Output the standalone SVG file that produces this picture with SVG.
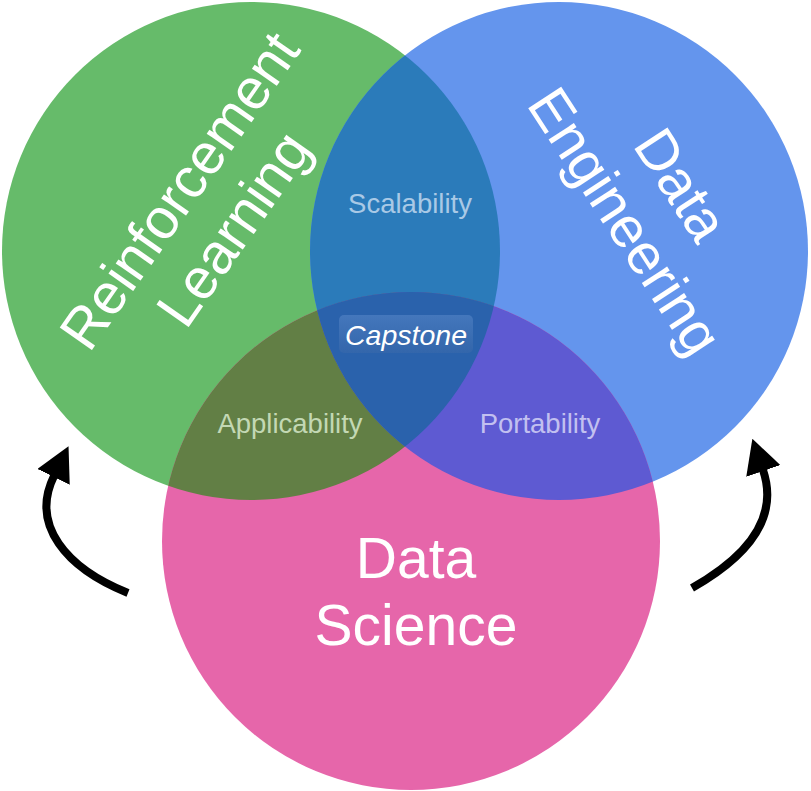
<svg xmlns="http://www.w3.org/2000/svg" width="811" height="791" viewBox="0 0 811 791">
  <style>
    .big { font-family: "Liberation Sans", Arial, sans-serif; font-size: 57px; fill: #ffffff; text-anchor: middle; }
    .small { font-family: "Liberation Sans", Arial, sans-serif; font-size: 27.5px; text-anchor: middle; }
    .cap { font-family: "Liberation Sans", Arial, sans-serif; font-size: 28.5px; font-style: italic; fill: #ffffff; text-anchor: middle; }
    .arrow { fill: none; stroke: #000000; stroke-width: 8; marker-end: url(#head); }
  </style>
  <defs>
    <clipPath id="clipG"><circle cx="251" cy="251" r="249"/></clipPath>
    <clipPath id="clipB"><circle cx="559" cy="251" r="249"/></clipPath>
    <marker id="head" viewBox="0 0 34 36" refX="1" refY="18" markerWidth="34" markerHeight="36" markerUnits="userSpaceOnUse" orient="auto">
      <path d="M0,0 L34,18 L0,36 z" fill="#000000"/>
    </marker>
    <linearGradient id="capFill" x1="0" y1="0" x2="0" y2="1">
      <stop offset="0" stop-color="#4477bc"/>
      <stop offset="1" stop-color="#3366ab"/>
    </linearGradient>
  </defs>

  <rect width="811" height="791" fill="#ffffff"/>

  <!-- base circles -->
  <g id="reinforcement-learning">
    <circle cx="251" cy="251" r="249" fill="#66BB6A"/>
  </g>
  <g id="data-engineering">
    <circle cx="559" cy="251" r="249" fill="#6495ED"/>
  </g>
  <g id="data-science">
    <circle cx="411" cy="541" r="249" fill="#E666AA"/>
  </g>

  <!-- pairwise overlaps -->
  <g id="scalability-region">
    <circle cx="559" cy="251" r="249" fill="#2B7BBA" clip-path="url(#clipG)"/>
  </g>
  <g id="applicability-region">
    <circle cx="411" cy="541" r="249" fill="#627F45" clip-path="url(#clipG)"/>
  </g>
  <g id="portability-region">
    <circle cx="411" cy="541" r="249" fill="#5E5AD2" clip-path="url(#clipB)"/>
  </g>
  <!-- triple overlap -->
  <g id="capstone-region" clip-path="url(#clipB)">
    <circle cx="411" cy="541" r="249" fill="#2A62AC" clip-path="url(#clipG)"/>
  </g>

  <!-- circle titles -->
  <g id="label-rl" transform="translate(207 210) rotate(-55)">
    <text class="big" x="0" y="-14">Reinforcement</text>
    <text class="big" x="0" y="52">Learning</text>
  </g>
  <g id="label-de" transform="translate(653 203) rotate(57)">
    <text class="big" x="0" y="-14">Data</text>
    <text class="big" x="0" y="53">Engineering</text>
  </g>
  <g id="label-ds">
    <text class="big" x="416" y="578">Data</text>
    <text class="big" x="416" y="645">Science</text>
  </g>

  <!-- overlap labels -->
  <g id="label-scalability">
    <text class="small" x="410" y="213" fill="#A9C9E6">Scalability</text>
  </g>
  <g id="label-applicability">
    <text class="small" x="290" y="433" fill="#C3D8B4">Applicability</text>
  </g>
  <g id="label-portability">
    <text class="small" x="540" y="433" fill="#C2C0F0">Portability</text>
  </g>
  <g id="capstone">
    <rect x="339" y="315" width="134" height="38" rx="5" fill="url(#capFill)"/>
    <text class="cap" x="406" y="345">Capstone</text>
  </g>

  <!-- cycle arrows -->
  <g id="connectors">
    <path class="arrow" d="M128,593 C66,568 30,525 54,476"/>
    <path class="arrow" d="M692,588 C745,558 780,520 763,470"/>
  </g>
</svg>
